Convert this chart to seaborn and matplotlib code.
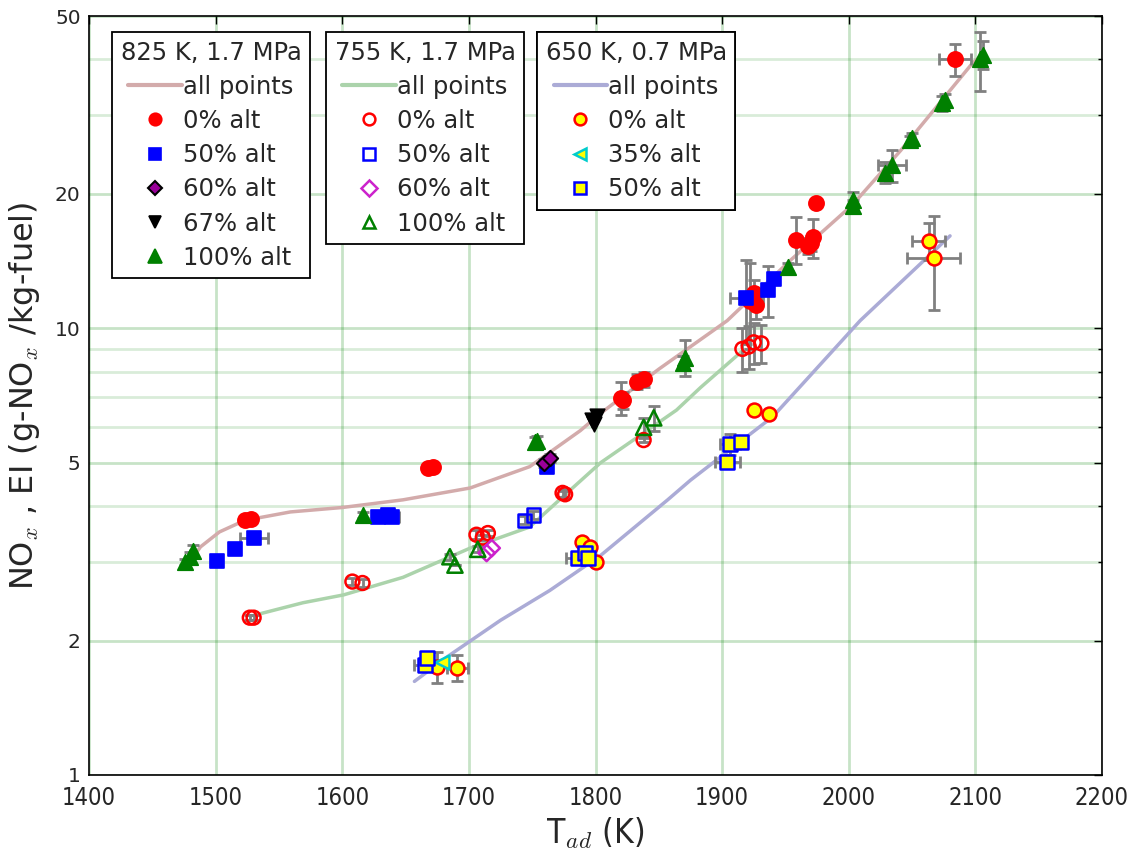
import matplotlib
matplotlib.use("Agg")
import matplotlib.pyplot as plt
import seaborn as sns
import numpy as np
from matplotlib.lines import Line2D
from matplotlib import font_manager as fm
from matplotlib.ticker import FixedLocator, FixedFormatter, NullFormatter

# ---------------- data ----------------
# 825 K, 1.7 MPa  (filled markers)
s1_0_T = [1523, 1528, 1668, 1672, 1820, 1822, 1833, 1838, 1922, 1925, 1927, 1958, 1968, 1970, 1972, 1974, 2084]
s1_0_y = [3.72, 3.75, 4.87, 4.90, 6.98, 6.90, 7.60, 7.70, 11.5, 12.0, 11.3, 15.8, 15.3, 15.5, 16.0, 19.1, 40.0]
s1_0_ye = [0.05, 0.05, 0.08, 0.08, 0.6, 0.3, 0.3, 0.3, 2.5, 0.8, 0.8, 1.9, 0.6, 0.6, 1.6, 0.0, 3.3]
s1_0_xe = [0, 0, 0, 0, 0, 0, 0, 0, 0, 0, 0, 0, 0, 0, 0, 0, 12.5]

s1_50_T = [1501, 1515, 1530, 1628, 1636, 1639, 1762, 1919, 1936, 1941]
s1_50_y = [3.01, 3.20, 3.39, 3.78, 3.82, 3.78, 4.89, 11.7, 12.2, 12.9]
s1_50_ye = [0, 0, 0.05, 0, 0, 0, 0, 2.5, 1.6, 0]
s1_50_xe = [0, 0, 11, 0, 0, 6, 0, 13, 0, 0]

s1_60_T = [1759, 1764]
s1_60_y = [5.00, 5.12]
s1_60_ye = [0.1, 0.1]

s1_67_T = [1797, 1799, 1801]
s1_67_y = [6.23, 6.10, 6.35]

s1_100_T = [1476, 1480, 1482, 1616, 1752, 1754, 1869, 1871, 1952, 2003, 2003, 2029, 2034, 2048, 2050, 2074, 2076, 2104, 2106]
s1_100_y = [3.00, 3.08, 3.18, 3.82, 5.57, 5.60, 8.36, 8.60, 13.7, 18.8, 19.4, 22.3, 23.2, 26.4, 26.7, 31.9, 32.5, 40.0, 41.0]
s1_100_ye = [0.05, 0.08, 0.1, 0.05, 0.15, 0.15, 0.3, 0.8, 0.3, 0.6, 0.8, 1.2, 1.9, 0.6, 0.6, 1.2, 1.0, 6.0, 3.0]
s1_100_xe = [0, 0, 0, 0, 0, 0, 0, 0, 0, 0, 0, 0, 11, 0, 0, 0, 0, 0, 0]

# 755 K, 1.7 MPa  (open markers)
s2_0_T = [1527, 1530, 1608, 1616, 1706, 1711, 1715, 1774, 1776, 1838, 1916, 1921, 1925, 1931]
s2_0_y = [2.25, 2.25, 2.71, 2.69, 3.45, 3.40, 3.48, 4.28, 4.25, 5.62, 8.99, 9.10, 9.30, 9.25]
s2_0_ye = [0.03, 0.03, 0.05, 0.05, 0.08, 0.05, 0.05, 0.08, 0.08, 0.05, 1.0, 1.0, 1.0, 0.9]

s2_50_T = [1744, 1751]
s2_50_y = [3.72, 3.82]
s2_50_ye = [0.08, 0.08]

s2_60_T = [1714, 1718]
s2_60_y = [3.14, 3.22]

s2_100_T = [1685, 1689, 1707, 1838, 1846]
s2_100_y = [3.08, 2.95, 3.20, 6.00, 6.30]
s2_100_ye = [0.05, 0.0, 0.05, 0.3, 0.4]

# 650 K, 0.7 MPa  (yellow markers)
s3_0_T = [1675, 1691, 1789, 1796, 1800, 1925, 1937, 2063, 2067]
s3_0_y = [1.745, 1.74, 3.32, 3.24, 3.00, 6.56, 6.43, 15.7, 14.4]
s3_0_ye = [0.14, 0.12, 0.05, 0.05, 0.05, 0, 0, 1.5, 3.4]
s3_0_xe = [0, 8.5, 0, 0, 0, 0, 0, 13, 21]

s3_35_T = [1679]
s3_35_y = [1.79]

s3_50_T = [1665, 1667, 1786, 1792, 1794, 1904, 1906, 1915]
s3_50_y = [1.76, 1.83, 3.06, 3.14, 3.06, 5.02, 5.51, 5.55]
s3_50_ye = [0.05, 0.05, 0.05, 0, 0, 0.1, 0.3, 0]
s3_50_xe = [8, 0, 9, 0, 0, 10, 8, 0]

# "all points" fit curves
c1_T = [1476, 1488, 1503, 1518, 1533, 1559, 1600, 1648, 1701, 1748, 1788, 1804, 1850, 1904, 1954, 2003, 2041, 2098, 2106]
c1_y = [2.90, 3.24, 3.50, 3.66, 3.76, 3.88, 3.97, 4.13, 4.39, 4.90, 5.90, 6.45, 8.10, 10.4, 14.2, 18.9, 25.0, 39.3, 41.0]
c2_T = [1531, 1569, 1601, 1648, 1701, 1748, 1774, 1804, 1838, 1864, 1883, 1917]
c2_y = [2.28, 2.43, 2.53, 2.77, 3.22, 3.59, 4.19, 5.00, 5.83, 6.56, 7.37, 8.95]
c3_T = [1657, 1683, 1725, 1764, 1804, 1857, 1875, 1940, 2009, 2080]
c3_y = [1.62, 1.84, 2.22, 2.59, 3.10, 4.13, 4.57, 6.34, 10.4, 16.1]

x_ticks = [1400, 1500, 1600, 1700, 1800, 1900, 2000, 2100, 2200]
x_tick_labels = ["1400", "1500", "1600", "1700", "1800", "1900", "2000", "2100", "2200"]
y_major = [1, 2, 5, 10, 20, 50]
y_major_labels = ["1", "2", "5", "10", "20", "50"]
y_minor = [3, 4, 6, 7, 8, 9, 30, 40]

legend_titles = ["825 K, 1.7 MPa", "755 K, 1.7 MPa", "650 K, 0.7 MPa"]

# ---------------- style ----------------
sns.set_style("white")
plt.rcParams["font.family"] = ["DejaVu Sans"]
plt.rcParams["mathtext.fontset"] = "cm"


def narrow_props(size):
    # look for an installed narrow / condensed sans face
    for f in fm.fontManager.ttflist:
        if f.name == "Liberation Sans Narrow" and f.style == "normal" and f.weight in (400, "normal", "regular"):
            return fm.FontProperties(fname=f.fname, size=size)
    for f in fm.fontManager.ttflist:
        low = f.fname.lower()
        if ("condensed" in low or "narrow" in low) and "bold" not in low and "oblique" not in low \
                and "italic" not in low and "sans" in low and "mono" not in low:
            return fm.FontProperties(fname=f.fname, size=size)
    return fm.FontProperties(family="DejaVu Sans", size=size)


fig = plt.figure(figsize=(11.35, 8.5), dpi=100)
ax = fig.add_axes([89 / 1135, 75 / 850, 1013 / 1135, 759 / 850])
ax.set_yscale("log")
ax.set_xlim(1400, 2200)
ax.set_ylim(1, 50)

# grid
ax.xaxis.set_major_locator(FixedLocator(x_ticks))
ax.xaxis.set_major_formatter(FixedFormatter(x_tick_labels))
ax.yaxis.set_major_locator(FixedLocator(y_major))
ax.yaxis.set_major_formatter(FixedFormatter(y_major_labels))
ax.yaxis.set_minor_locator(FixedLocator(y_minor))
ax.yaxis.set_minor_formatter(NullFormatter())
ax.grid(True, which="major", color="green", alpha=0.22, lw=2.0, zorder=0)
ax.grid(True, which="minor", axis="y", color="green", alpha=0.15, lw=2.0, zorder=0)
ax.set_axisbelow(True)

# fit curves
line_cols = ["#d3abab", "#abd3ab", "#ababd6"]
for T, y, c in [(c1_T, c1_y, line_cols[0]), (c2_T, c2_y, line_cols[1]), (c3_T, c3_y, line_cols[2])]:
    sns.lineplot(x=T, y=y, sort=False, estimator=None, color=c, lw=2.5, ax=ax, zorder=1)

EC = "#808080"


def ebar(T, y, ye=None, xe=None):
    ax.errorbar(T, y, yerr=ye, xerr=xe, fmt="none", ecolor=EC, elinewidth=2,
                capsize=4, capthick=2, zorder=2)


def pts(T, y, marker, face, edge, s, lw=1.2):
    sns.scatterplot(x=T, y=y, marker=marker, s=s, facecolor=face, edgecolor=edge,
                    linewidth=lw, ax=ax, zorder=3, legend=False)


# 825 K
ebar(s1_0_T, s1_0_y, s1_0_ye, s1_0_xe)
ebar(s1_50_T, s1_50_y, s1_50_ye, s1_50_xe)
ebar(s1_60_T, s1_60_y, s1_60_ye)
ebar(s1_100_T, s1_100_y, s1_100_ye, s1_100_xe)
# 755 K
ebar(s2_0_T, s2_0_y, s2_0_ye)
ebar(s2_50_T, s2_50_y, s2_50_ye)
ebar(s2_100_T, s2_100_y, s2_100_ye)
# 650 K
ebar(s3_0_T, s3_0_y, s3_0_ye, s3_0_xe)
ebar(s3_50_T, s3_50_y, s3_50_ye, s3_50_xe)

pts(s1_0_T, s1_0_y, "o", "red", "red", 120)
pts(s1_50_T, s1_50_y, "s", "blue", "blue", 100)
pts(s1_60_T, s1_60_y, "D", "#990099", "black", 60, 1.5)
pts(s1_67_T, s1_67_y, "v", "black", "black", 110)
pts(s1_100_T, s1_100_y, "^", "green", "green", 125)

pts(s2_0_T, s2_0_y, "o", "none", "red", 100, 1.8)
pts(s2_50_T, s2_50_y, "s", "none", "blue", 90, 1.8)
pts(s2_60_T, s2_60_y, "D", "none", "#cc22cc", 70, 1.8)
pts(s2_100_T, s2_100_y, "^", "none", "green", 120, 1.8)

pts(s3_0_T, s3_0_y, "o", "yellow", "red", 100, 1.8)
pts(s3_35_T, s3_35_y, "<", "yellow", "#00cccc", 100, 1.8)
pts(s3_50_T, s3_50_y, "s", "yellow", "blue", 90, 1.8)

# axes cosmetics
for sp in ax.spines.values():
    sp.set_visible(True)
    sp.set_color("black")
    sp.set_linewidth(1.2)
ax.tick_params(which="both", direction="in", top=True, right=True, color="black")
ax.tick_params(which="major", length=6, width=1)
ax.tick_params(which="minor", length=3, width=1)
ax.tick_params(axis="y", labelsize=14.5, pad=6)
xfp = narrow_props(17)
for lab in ax.get_xticklabels():
    lab.set_fontproperties(xfp)
ax.tick_params(axis="x", pad=8)

ax.set_xlabel(r"T$_{ad}$ (K)", fontproperties=narrow_props(24), labelpad=4)
ax.set_ylabel(r"NO$_x$ , EI (g-NO$_x$ /kg-fuel)", fontsize=23, labelpad=9)


# legends
def H(marker, face, edge, ms, mew=1.2):
    return Line2D([], [], ls="none", marker=marker, markerfacecolor=face,
                  markeredgecolor=edge, markersize=ms, markeredgewidth=mew)


leg_sets = [
    ([Line2D([], [], color=line_cols[0], lw=3),
      H("o", "red", "red", 9), H("s", "blue", "blue", 8.5),
      H("D", "#990099", "black", 7.5, 1.5), H("v", "black", "black", 9),
      H("^", "green", "green", 9.5)],
     ["all points", "0% alt", "50% alt", "60% alt", "67% alt", "100% alt"],
     (112 / 1135, 1 - 32 / 850)),
    ([Line2D([], [], color=line_cols[1], lw=3),
      H("o", "none", "red", 8.5, 1.8), H("s", "none", "blue", 8.5, 1.8),
      H("D", "none", "#cc22cc", 8, 1.8), H("^", "none", "green", 9, 1.8)],
     ["all points", "0% alt", "50% alt", "60% alt", "100% alt"],
     (326 / 1135, 1 - 32 / 850)),
    ([Line2D([], [], color=line_cols[2], lw=3),
      H("o", "yellow", "red", 8.5, 1.8), H("<", "yellow", "#00cccc", 8.5, 1.8),
      H("s", "yellow", "blue", 8.5, 1.8)],
     ["all points", "0% alt", "35% alt", "50% alt"],
     (537 / 1135, 1 - 32 / 850)),
]

for (handles, labels, anchor), title in zip(leg_sets, legend_titles):
    leg = ax.legend(handles, labels, title=title, loc="upper left",
                    bbox_to_anchor=anchor, bbox_transform=fig.transFigure,
                    fontsize=17.5, title_fontsize=17.5, frameon=True, fancybox=False,
                    framealpha=1, edgecolor="black", borderpad=0.35,
                    labelspacing=0.42, handlelength=2.2, handletextpad=0.05,
                    numpoints=1, borderaxespad=0)
    leg.get_frame().set_linewidth(1.3)
    ax.add_artist(leg)

fig.savefig("out.png", dpi=100, facecolor="white")
